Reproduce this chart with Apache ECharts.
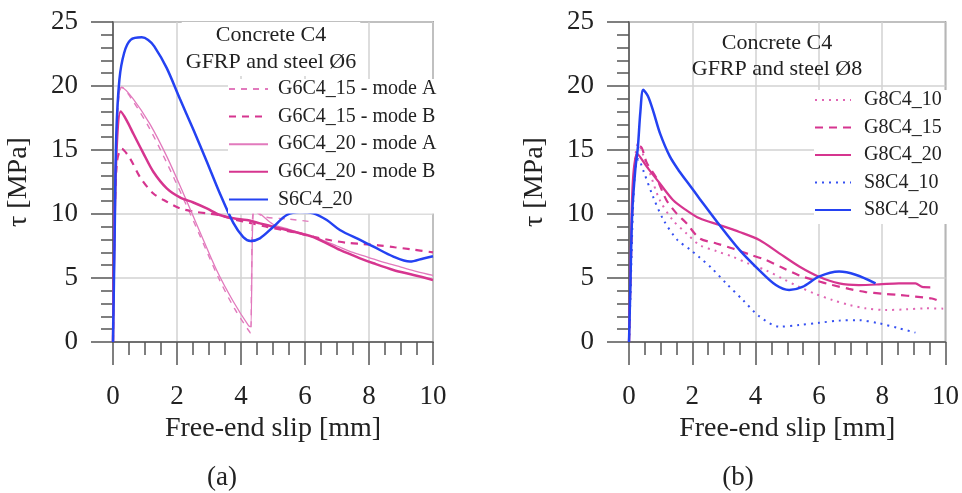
<!DOCTYPE html>
<html>
<head>
<meta charset="utf-8">
<script src="https://cdn.jsdelivr.net/npm/echarts@6/dist/echarts.min.js"></script>
<style>
  html, body { margin: 0; padding: 0; background: #fff; }
  #main { width: 962px; height: 493px; }
</style>
</head>
<body>
<div id="main"></div>
<script>
// (a) GFRP and steel Ø6 — slip [mm] / tau [MPa]
var xG6C4_15A = [0, 0.04, 0.1, 0.18, 0.27, 0.63, 1.16, 1.68, 2.2, 2.7, 3.3, 3.8, 4.3, 4.33, 4.4, 4.7, 5.5, 6.2];
var yG6C4_15A = [0, 8, 15, 19, 19.9, 18.8, 16.6, 14.0, 11.2, 8.4, 5.0, 2.6, 0.7, 5, 10.3, 9.8, 9.6, 9.4];

var xG6C4_15B = [0, 0.04, 0.12, 0.27, 0.53, 0.84, 1.26, 1.68, 2.09, 2.5, 2.93, 3.34, 3.76, 4.28, 4.8, 5.3, 5.8, 6.3, 6.8, 7.3, 7.8, 8.3, 8.8, 9.3, 10];
var yG6C4_15B = [0, 8, 14, 15.1, 14.35, 12.9, 11.6, 10.96, 10.44, 10.2, 10.05, 9.9, 9.6, 9.3, 9.0, 8.75, 8.5, 8.2, 7.95, 7.75, 7.65, 7.55, 7.4, 7.25, 7.0];

var xG6C4_20A = [0, 0.04, 0.1, 0.18, 0.27, 0.63, 1.16, 1.68, 2.2, 2.7, 3.24, 3.75, 4.23, 4.3, 4.42, 4.7, 5.0, 5.5, 6.0, 6.5, 7.0, 7.5, 8.0, 8.5, 9.0, 9.5, 10];
var yG6C4_20A = [0, 9, 16, 19.2, 19.9, 19.0, 17.0, 14.5, 11.6, 8.7, 5.6, 3.2, 1.3, 1.2, 10.4, 9.8, 9.2, 8.8, 8.4, 8.0, 7.5, 7.0, 6.6, 6.2, 5.85, 5.5, 5.2];

var xG6C4_20B = [0, 0.04, 0.12, 0.24, 0.43, 0.63, 0.95, 1.26, 1.68, 2.09, 2.51, 2.93, 3.34, 3.76, 4.18, 4.59, 5.01, 5.43, 5.84, 6.26, 6.68, 7.09, 7.72, 8.14, 8.76, 9.39, 10];
var yG6C4_20B = [0, 8, 15.5, 18.0, 17.3, 16.3, 14.74, 13.3, 12.0, 11.3, 10.9, 10.44, 9.92, 9.66, 9.53, 9.27, 9.0, 8.75, 8.49, 8.2, 7.7, 7.19, 6.54, 6.15, 5.63, 5.24, 4.85];

var xS6C4_20 = [0, 0.05, 0.1, 0.2, 0.35, 0.55, 0.9, 1.1, 1.29, 1.68, 2.09, 2.51, 2.93, 3.34, 3.76, 4.07, 4.3, 4.59, 5.01, 5.43, 5.84, 6.26, 6.68, 7.09, 7.72, 8.14, 8.76, 9.28, 9.7, 10];
var yS6C4_20 = [0, 8, 16, 20.5, 22.6, 23.6, 23.8, 23.6, 23.1, 21.4, 19.0, 16.6, 14.1, 11.6, 9.3, 8.2, 7.9, 8.1, 9.0, 9.92, 10.15, 10.05, 9.53, 8.75, 7.97, 7.45, 6.67, 6.28, 6.53, 6.7];

// (b) GFRP and steel Ø8
var xG8C4_10 = [0, 0.05, 0.12, 0.2, 0.29, 0.45, 0.66, 0.97, 1.39, 1.81, 2.23, 2.76, 3.28, 3.8, 4.33, 4.85, 5.38, 5.9, 6.43, 6.95, 7.48, 8.1, 8.75, 9.37, 10];
var yG8C4_10 = [0, 5, 11, 14.5, 15.5, 14.6, 13.2, 11.1, 9.5, 8.5, 7.58, 7.1, 6.66, 6.1, 5.6, 4.95, 4.3, 3.75, 3.28, 2.9, 2.63, 2.5, 2.55, 2.63, 2.6];

var xG8C4_15 = [0, 0.05, 0.12, 0.22, 0.37, 0.56, 0.87, 1.18, 1.5, 1.81, 2.23, 2.76, 3.28, 3.8, 4.33, 4.85, 5.38, 5.9, 6.43, 6.95, 7.48, 8.0, 8.53, 9.05, 9.57, 9.72];
var yG8C4_15 = [0, 5, 11, 14.5, 15.26, 14.0, 12.8, 11.1, 10.05, 9.3, 8.1, 7.7, 7.3, 6.85, 6.4, 5.8, 5.2, 4.8, 4.45, 4.15, 3.9, 3.78, 3.67, 3.55, 3.4, 3.28];

var xG8C4_20 = [0, 0.05, 0.12, 0.26, 0.56, 0.97, 1.39, 1.81, 2.23, 2.86, 3.49, 4.12, 4.75, 5.38, 6.0, 6.64, 7.26, 7.9, 8.53, 9.05, 9.26, 9.52];
var yG8C4_20 = [0, 6, 12.5, 14.7, 13.7, 12.4, 11.1, 10.3, 9.66, 9.14, 8.6, 7.97, 6.93, 5.9, 5.1, 4.58, 4.45, 4.5, 4.58, 4.58, 4.3, 4.27];

var xS8C4_10 = [0, 0.05, 0.12, 0.2, 0.3, 0.45, 0.76, 1.09, 1.52, 1.94, 2.23, 2.6, 3.07, 3.6, 4.12, 4.75, 5.38, 6.0, 6.64, 7.26, 7.9, 8.53, 9.05];
var yS8C4_10 = [0, 4, 10, 13.5, 14.3, 13.4, 11.35, 9.54, 8.0, 7.2, 6.6, 5.8, 4.58, 3.28, 2.0, 1.2, 1.33, 1.5, 1.67, 1.7, 1.46, 1.07, 0.73];

var xS8C4_20 = [0, 0.04, 0.1, 0.2, 0.28, 0.36, 0.45, 0.6, 0.77, 0.98, 1.29, 1.6, 1.9, 2.23, 2.86, 3.49, 4.12, 4.64, 5.06, 5.48, 6.0, 6.64, 7.16, 7.79];
var yS8C4_20 = [0, 4, 10, 13.5, 15.2, 18.0, 19.7, 19.2, 18.0, 16.3, 14.5, 13.3, 12.3, 11.2, 9.14, 7.2, 5.6, 4.45, 4.06, 4.3, 5.1, 5.5, 5.25, 4.58];

var xTicks = [0, 2, 4, 6, 8, 10];
var yTicks = [0, 5, 10, 15, 20, 25];

var FONT = '"Liberation Serif", "DejaVu Serif", serif';
var TXT = '#222';
var AXC = '#555';

function zip(xs, ys) {
  return xs.map(function (x, i) { return [x, ys[i]]; });
}

function xAxisFor(idx) {
  return {
    type: 'value', gridIndex: idx,
    min: xTicks[0], max: xTicks[xTicks.length - 1], interval: xTicks[1] - xTicks[0],
    name: 'Free-end slip [mm]', nameLocation: 'middle', nameGap: 72,
    nameTextStyle: { fontFamily: FONT, fontSize: 28, color: TXT },
    axisLine: { show: true, onZero: false, lineStyle: { color: AXC, width: 1.5 } },
    axisTick: { show: true, inside: false, length: 23, lineStyle: { color: AXC, width: 1.5 } },
    minorTick: { show: true, splitNumber: 4, length: 13, lineStyle: { color: AXC, width: 1.5 } },
    splitLine: { show: true, lineStyle: { color: '#d2d2d2', width: 1.5 } },
    axisLabel: { fontFamily: FONT, fontSize: 27, color: TXT, margin: 41 }
  };
}

function yAxisFor(idx) {
  return {
    type: 'value', gridIndex: idx,
    min: yTicks[0], max: yTicks[yTicks.length - 1], interval: yTicks[1] - yTicks[0],
    name: 'τ [MPa]', nameLocation: 'middle', nameGap: 80,
    nameTextStyle: { fontFamily: FONT, fontSize: 28, color: TXT },
    axisLine: { show: true, onZero: false, lineStyle: { color: AXC, width: 1.5 } },
    axisTick: { show: true, inside: false, length: 22, lineStyle: { color: AXC, width: 1.5 } },
    minorTick: { show: true, splitNumber: 5, length: 12, lineStyle: { color: AXC, width: 1.5 } },
    splitLine: { show: true, lineStyle: { color: '#d2d2d2', width: 1.5 } },
    axisLabel: { fontFamily: FONT, fontSize: 27, color: TXT, margin: 35 }
  };
}

function line(name, idx, data, color, width, type) {
  return {
    name: name, type: 'line', xAxisIndex: idx, yAxisIndex: idx,
    data: data, symbol: 'none', showSymbol: false,
    smooth: 0.3,
    itemStyle: { color: color },
    lineStyle: { color: color, width: width, type: type || 'solid' },
    emphasis: { disabled: true }
  };
}

var pinkLight = '#e27abd';
var pinkDark = '#d6358f';
var blue = '#2442f2';

var chart = echarts.init(document.getElementById('main'), null, { renderer: 'canvas' });
chart.setOption({
  animation: false,
  backgroundColor: '#fff',
  grid: [
    { left: 113, right: 529, top: 22, bottom: 151, show: true, borderColor: '#666', borderWidth: 1.5 },
    { left: 629, right: 15, top: 22, bottom: 151, show: true, borderColor: '#666', borderWidth: 1.5 }
  ],
  xAxis: [xAxisFor(0), xAxisFor(1)],
  yAxis: [yAxisFor(0), yAxisFor(1)],
  legend: [
    {
      orient: 'vertical', left: 228, top: 79,
      itemWidth: 39, itemHeight: 14, itemGap: 7.6,
      backgroundColor: '#fff', padding: [0, 3, 4, 0],
      itemStyle: { opacity: 0 },
      textStyle: { fontFamily: FONT, fontSize: 20, color: TXT, lineHeight: 20, padding: [0, 0, 0, 5] },
      selectedMode: false,
      data: ['G6C4_15 - mode A', 'G6C4_15 - mode B', 'G6C4_20 - mode A', 'G6C4_20 - mode B', 'S6C4_20']
    },
    {
      orient: 'vertical', left: 814, top: 90,
      itemWidth: 36, itemHeight: 14, itemGap: 7.5,
      backgroundColor: '#fff', padding: [0, 8, 4, 0],
      itemStyle: { opacity: 0 },
      textStyle: { fontFamily: FONT, fontSize: 20, color: TXT, lineHeight: 20, padding: [0, 0, 0, 8] },
      selectedMode: false,
      data: ['G8C4_10', 'G8C4_15', 'G8C4_20', 'S8C4_10', 'S8C4_20']
    }
  ],
  graphic: [
    {
      type: 'text', x: 271, y: 22, z: 5,
      style: {
        text: 'Concrete C4\nGFRP and steel Ø6', font: '22px ' + FONT, fill: TXT,
        align: 'center', verticalAlign: 'top', lineHeight: 27,
        backgroundColor: '#fff', padding: [0, 4, 0, 4]
      }
    },
    {
      type: 'text', x: 777, y: 30, z: 5,
      style: {
        text: 'Concrete C4\nGFRP and steel Ø8', font: '22px ' + FONT, fill: TXT,
        align: 'center', verticalAlign: 'top', lineHeight: 26
      }
    },
    {
      type: 'text', x: 222, y: 478, z: 5,
      style: { text: '(a)', font: '27px ' + FONT, fill: TXT, align: 'center', verticalAlign: 'middle' }
    },
    {
      type: 'text', x: 738, y: 478, z: 5,
      style: { text: '(b)', font: '27px ' + FONT, fill: TXT, align: 'center', verticalAlign: 'middle' }
    }
  ],
  series: [
    line('G6C4_15 - mode A', 0, zip(xG6C4_15A, yG6C4_15A), pinkLight, 1.4, [6, 6]),
    line('G6C4_15 - mode B', 0, zip(xG6C4_15B, yG6C4_15B), pinkDark, 2.2, [7, 6]),
    line('G6C4_20 - mode A', 0, zip(xG6C4_20A, yG6C4_20A), pinkLight, 1.3),
    line('G6C4_20 - mode B', 0, zip(xG6C4_20B, yG6C4_20B), pinkDark, 2.5),
    line('S6C4_20', 0, zip(xS6C4_20, yS6C4_20), blue, 2.5),
    line('G8C4_10', 1, zip(xG8C4_10, yG8C4_10), '#e066b4', 2, [2, 5]),
    line('G8C4_15', 1, zip(xG8C4_15, yG8C4_15), pinkDark, 2.2, [8, 6]),
    line('G8C4_20', 1, zip(xG8C4_20, yG8C4_20), pinkDark, 2.2),
    line('S8C4_10', 1, zip(xS8C4_10, yS8C4_10), '#3550f2', 2, [2, 5]),
    line('S8C4_20', 1, zip(xS8C4_20, yS8C4_20), blue, 2.5)
  ]
});
</script>
</body>
</html>
